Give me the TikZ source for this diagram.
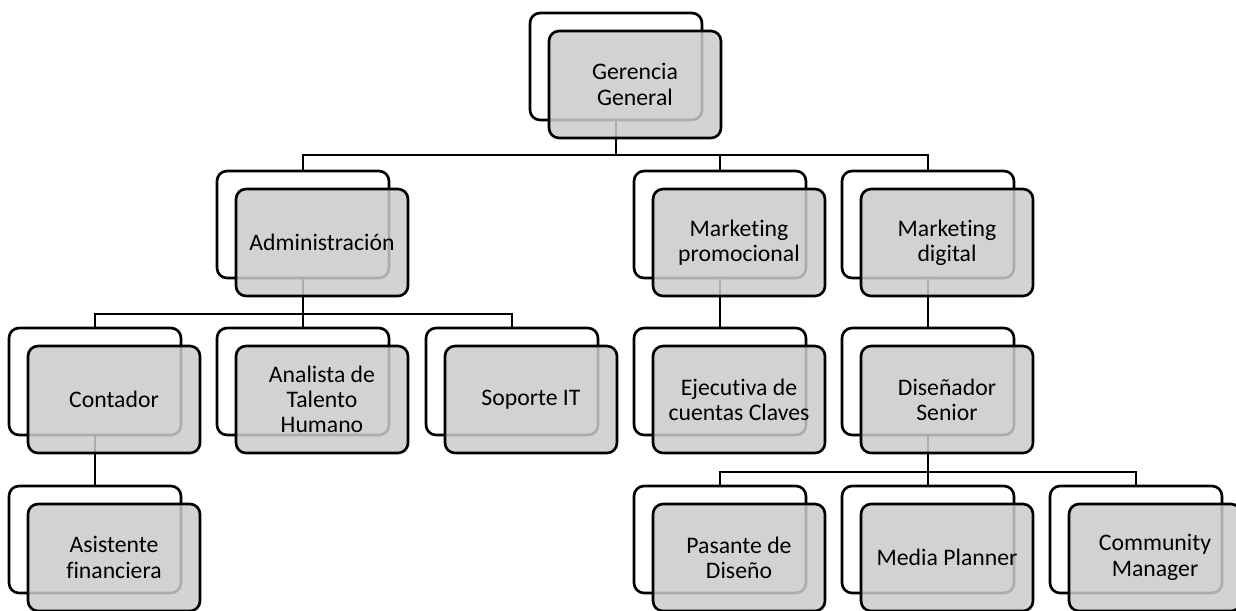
\documentclass[tikz,border=0pt]{standalone}
\usepackage{fontspec}
\setmainfont{Carlito}[RawFeature=-liga]
\usetikzlibrary{positioning,backgrounds}
\definecolor{boxgray}{RGB}{203,203,203}

\tikzset{
  backbox/.style={draw, line width=1.5pt, rounded corners=0.2cm, fill=white,
    minimum width=3.44cm, minimum height=2.14cm, inner sep=0pt},
  frontbox/.style={backbox, fill=boxgray, fill opacity=0.85, text opacity=1,
    align=center, font=\fontsize{13.5}{14.4}\selectfont},
  link/.style={line width=1.2pt}
}

\begin{document}
\begin{tikzpicture}[x=0.02cm,y=-0.02cm]
\useasboundingbox (0,0) rectangle (1236,610);
% fila 1
\node[backbox] (gg-b) at (616,66.5) {};
\node[frontbox] (gg) at (635,84.5) {Gerencia\\General};
% fila 2
\node[backbox] (adm-b) at (303,224.5) {};
\node[frontbox] (adm) at (322,242.5) {Administración};
\node[backbox] (mp-b) at (720,224.5) {};
\node[frontbox] (mp) at (739,242.5) {Marketing\\promocional};
\node[backbox] (md-b) at (928,224.5) {};
\node[frontbox] (md) at (947,242.5) {Marketing\\digital};
% fila 3
\node[backbox] (cont-b) at (95,381.5) {};
\node[frontbox] (cont) at (114,399.5) {Contador};
\node[backbox] (ath-b) at (303,381.5) {};
\node[frontbox] (ath) at (322,399.5) {Analista de\\Talento\\Humano};
\node[backbox] (sit-b) at (512,381.5) {};
\node[frontbox] (sit) at (531,399.5) {Soporte IT};
\node[backbox] (ejc-b) at (720,381.5) {};
\node[frontbox] (ejc) at (739,399.5) {Ejecutiva de\\cuentas Claves};
\node[backbox] (ds-b) at (928,381.5) {};
\node[frontbox] (ds) at (947,399.5) {Diseñador\\Senior};
% fila 4
\node[backbox] (af-b) at (95,539.5) {};
\node[frontbox] (af) at (114,557.5) {Asistente\\financiera};
\node[backbox] (pd-b) at (720,539.5) {};
\node[frontbox] (pd) at (739,557.5) {Pasante de\\Diseño};
\node[backbox] (mpl-b) at (928,539.5) {};
\node[frontbox] (mpl) at (947,557.5) {Media Planner};
\node[backbox] (cm-b) at (1136,539.5) {};
\node[frontbox] (cm) at (1155,557.5) {Community\\Manager};
% conectores
\begin{scope}[on background layer]
\draw[link] (gg-b.south) -- +(0,34) -| (adm-b.north);
\draw[link] (gg-b.south) -- +(0,34) -| (mp-b.north);
\draw[link] (gg-b.south) -- +(0,34) -| (md-b.north);
\draw[link] (adm-b.south) -- +(0,35) -| (cont-b.north);
\draw[link] (adm-b.south) -- (ath-b.north);
\draw[link] (adm-b.south) -- +(0,35) -| (sit-b.north);
\draw[link] (mp-b.south) -- (ejc-b.north);
\draw[link] (md-b.south) -- (ds-b.north);
\draw[link] (cont-b.south) -- (af-b.north);
\draw[link] (ds-b.south) -- +(0,36) -| (pd-b.north);
\draw[link] (ds-b.south) -- (mpl-b.north);
\draw[link] (ds-b.south) -- +(0,36) -| (cm-b.north);
\end{scope}
\end{tikzpicture}
\end{document}
